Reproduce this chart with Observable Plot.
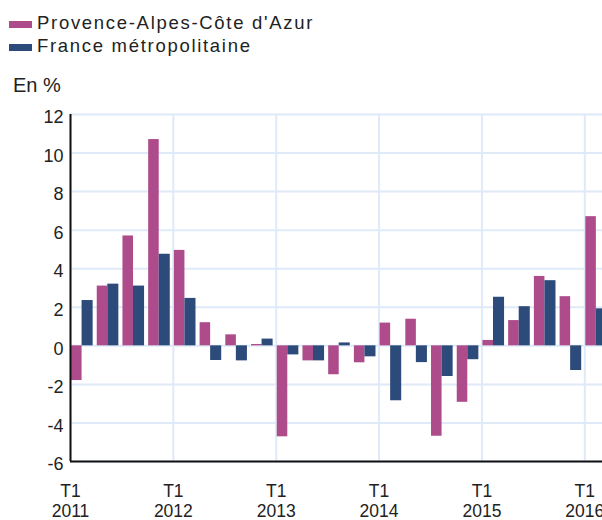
<!DOCTYPE html>
<html><head><meta charset="utf-8">
<script src="https://cdn.jsdelivr.net/npm/d3@7"></script>
<script src="https://cdn.jsdelivr.net/npm/@observablehq/plot@0.6"></script>
<style>
html,body{margin:0;padding:0;width:602px;height:520px;overflow:hidden;background:#fff;font-family:"Liberation Sans",Arial,sans-serif;color:#222;}
.sw{position:absolute;left:9px;width:23px;height:7px;}
.lab{position:absolute;left:37px;font-size:18.5px;line-height:1;letter-spacing:1.7px;white-space:nowrap;}
#unit{position:absolute;left:13px;top:75px;font-size:20px;line-height:1;white-space:nowrap;}
#chart{position:absolute;left:0;top:96px;width:612px;}
#chart svg{max-width:none !important;}
</style></head>
<body>
<div id="legend"></div>
<div id="unit">En %</div>
<div id="chart"></div>
<script>
const seriesNames = ["Provence-Alpes-Côte d'Azur", "France métropolitaine"];
const seriesColors = ["#ad4b8b", "#2c4a7a"];
const quarters = ["T1 2011","T2 2011","T3 2011","T4 2011","T1 2012","T2 2012","T3 2012","T4 2012",
  "T1 2013","T2 2013","T3 2013","T4 2013","T1 2014","T2 2014","T3 2014","T4 2014",
  "T1 2015","T2 2015","T3 2015","T4 2015","T1 2016"];
const paca   = [-1.8, 3.1, 5.7, 10.7, 4.95, 1.2, 0.57, 0.07, -4.72, -0.78, -1.5, -0.88, 1.18, 1.38, -4.69, -2.93, 0.28, 1.31, 3.6, 2.55, 6.7];
const france = [2.35, 3.2, 3.1, 4.75, 2.46, -0.76, -0.78, 0.35, -0.47, -0.78, 0.15, -0.57, -2.85, -0.87, -1.59, -0.72, 2.52, 2.03, 3.38, -1.28, 1.92];
const yTicks = [-6, -4, -2, 0, 2, 4, 6, 8, 10, 12];

// legend
const legend = document.getElementById("legend");
seriesNames.forEach((n, k) => {
  const sw = document.createElement("div");
  sw.className = "sw"; sw.style.top = (21 + k * 22.5) + "px"; sw.style.background = seriesColors[k];
  const lb = document.createElement("div");
  lb.className = "lab"; lb.style.top = (13.5 + k * 23) + "px"; lb.textContent = n;
  legend.append(sw, lb);
});

const slots = [[0.04, 0.45], [0.45, 0.88]];
const data = [];
quarters.forEach((q, i) => {
  [paca, france].forEach((arr, k) => {
    data.push({i, k, v: arr[i], x1: i + slots[k][0], x2: i + slots[k][1]});
  });
});
const yearTicks = quarters.map((q, i) => i).filter(i => quarters[i].startsWith("T1"));

const grid = "#dfeaf9";
const chart = Plot.plot({
  width: 612, height: 424,
  marginLeft: 70, marginRight: 2, marginTop: 18, marginBottom: 59,
  style: {fontFamily: "Liberation Sans, Arial, sans-serif", fontSize: "18px", color: "#222", overflow: "visible", background: "transparent", maxWidth: "none"},
  x: {domain: [0, quarters.length], axis: null},
  y: {domain: [-6, 12], axis: null},
  marks: [
    Plot.gridY(yTicks, {stroke: grid, strokeOpacity: 1, strokeWidth: 2}),
    Plot.gridX(yearTicks, {stroke: grid, strokeOpacity: 1, strokeWidth: 2}),
    Plot.rect(data, {x1: "x1", x2: "x2", y1: 0, y2: "v", fill: d => seriesColors[d.k]}),
    Plot.ruleX([0], {stroke: "#111", strokeWidth: 2}),
    Plot.ruleY([-6], {stroke: "#111", strokeWidth: 2}),
    Plot.axisY(yTicks, {tickSize: 0, tickPadding: 7, dy: 3, fontSize: 18, label: null, tickFormat: d => String(d)}),
    Plot.axisX(yearTicks, {tickSize: 0, tickPadding: 22, fontSize: 17.5, lineHeight: 1.12, label: null,
      tickFormat: i => quarters[i].replace(" ", "\n")})
  ]
});
document.getElementById("chart").append(chart);
</script>
</body></html>
